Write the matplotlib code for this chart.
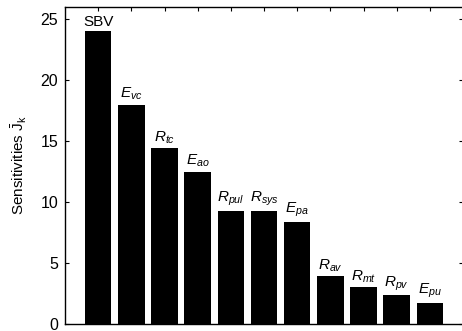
import matplotlib
matplotlib.use("Agg")
import matplotlib.pyplot as plt

plt.rcParams['font.family'] = ['Liberation Sans', 'DejaVu Sans']
plt.rcParams['mathtext.fontset'] = 'custom'
plt.rcParams['mathtext.rm'] = 'Liberation Sans'
plt.rcParams['mathtext.it'] = 'Liberation Sans:italic'
plt.rcParams['mathtext.bf'] = 'Liberation Sans:bold'

labels = ['SBV', r'$E_{vc}$', r'$R_{tc}$', r'$E_{ao}$', r'$R_{pul}$', r'$R_{sys}$',
          r'$E_{pa}$', r'$R_{av}$', r'$R_{mt}$', r'$R_{pv}$', r'$E_{pu}$']
values = [24.0, 18.0, 14.4, 12.5, 9.3, 9.25, 8.35, 3.9, 3.0, 2.35, 1.7]

fig = plt.figure(figsize=(4.62, 3.31), dpi=100)
ax = fig.add_axes([65/462, 7/331, 398/462, 317/331])
pos = list(range(1, len(values) + 1))
ax.bar(pos, values, width=0.8, color='black')
for p, v, l in zip(pos, values, labels):
    ax.annotate(l, (p, v), xytext=(0, 2), textcoords='offset points',
                ha='center', va='bottom', fontsize=11)
ax.set_xlim(0, 12)
ax.set_ylim(0, 26)
ax.set_xticks(pos)
ax.set_xticklabels([])
ax.set_yticks([0, 5, 10, 15, 20, 25])
ax.tick_params(direction='in', top=True, right=True, length=3, labelsize=11.5, width=0.8, pad=5)
ax.set_ylabel(r'Sensitivities $\bar{\mathrm{J}}_\mathrm{k}$', fontsize=11, labelpad=8)
for s in ax.spines.values():
    s.set_linewidth(1.0)
fig.savefig('out.png', dpi=100)
